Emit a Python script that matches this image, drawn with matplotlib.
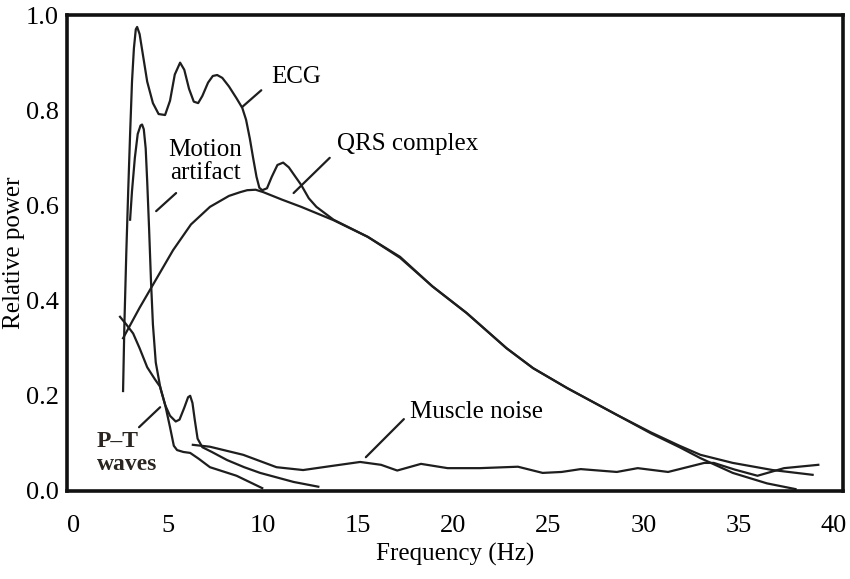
import matplotlib
matplotlib.use("Agg")
import matplotlib.pyplot as plt

plt.rcParams['font.family'] = ['Liberation Serif', 'DejaVu Serif']

# curves (frequency in Hz, relative power)
ecg_f = [2.63, 2.7, 2.8, 2.9, 3.0, 3.1, 3.2, 3.3, 3.37, 3.5, 3.7, 3.9, 4.2, 4.5,
         4.84, 5.1, 5.35, 5.63, 5.85, 6.1, 6.35, 6.58, 6.8, 7.1, 7.35, 7.58, 7.85,
         8.2, 8.6, 8.9, 9.1, 9.3, 9.47, 9.65, 9.8, 9.95, 10.2, 10.45, 10.75, 11.05,
         11.35, 11.7, 12.0, 12.4, 12.8, 13.7, 15.5, 17.2, 18.9, 20.7, 22.8, 24.2,
         26.0, 28.6, 30.4, 31.9, 33.0, 34.7, 36.5, 38.0]
ecg_p = [0.21, 0.35, 0.50, 0.63, 0.75, 0.86, 0.93, 0.97, 0.975, 0.96, 0.91, 0.86,
         0.815, 0.792, 0.79, 0.82, 0.875, 0.90, 0.885, 0.845, 0.818, 0.815, 0.83,
         0.858, 0.872, 0.874, 0.868, 0.85, 0.825, 0.805, 0.78, 0.74, 0.70, 0.66,
         0.637, 0.632, 0.636, 0.66, 0.685, 0.69, 0.68, 0.66, 0.643, 0.615, 0.597,
         0.57, 0.534, 0.492, 0.43, 0.374, 0.30, 0.258, 0.216, 0.16, 0.121, 0.092,
         0.069, 0.038, 0.016, 0.004]

qrs_f = [2.63, 3.5, 4.3, 5.26, 6.2, 7.2, 8.2, 8.8, 9.16, 9.6, 10.0, 11.0, 12.0,
         13.7, 15.5, 17.2, 18.9, 20.7, 22.8, 24.2, 26.0, 28.6, 30.4, 31.9, 33.0,
         34.7, 36.8, 38.9]
qrs_p = [0.321, 0.385, 0.44, 0.506, 0.56, 0.597, 0.62, 0.628, 0.632, 0.633, 0.628,
         0.612, 0.597, 0.569, 0.534, 0.49, 0.43, 0.374, 0.30, 0.258, 0.216, 0.16,
         0.123, 0.095, 0.076, 0.059, 0.044, 0.034]

motion_f = [3.0, 3.1, 3.25, 3.4, 3.55, 3.63, 3.72, 3.82, 3.9, 4.0, 4.1, 4.2, 4.35,
            4.6, 4.85, 5.1, 5.4, 5.6, 5.85, 6.05, 6.16, 6.28, 6.4, 6.55, 6.8, 7.3,
            8.1, 9.0, 9.84, 11.6, 12.9]
motion_p = [0.57, 0.63, 0.70, 0.75, 0.768, 0.77, 0.76, 0.72, 0.65, 0.55, 0.44,
            0.35, 0.27, 0.215, 0.18, 0.158, 0.146, 0.15, 0.175, 0.197, 0.20, 0.185,
            0.15, 0.11, 0.092, 0.082, 0.065, 0.05, 0.038, 0.019, 0.009]

pt_f = [2.47, 2.8, 3.16, 3.5, 3.9, 4.3, 4.58, 4.85, 5.1, 5.3, 5.47, 5.8, 6.16,
        6.6, 7.2, 8.6, 9.95]
pt_p = [0.366, 0.35, 0.331, 0.30, 0.26, 0.235, 0.219, 0.18, 0.134, 0.095, 0.086,
        0.082, 0.08, 0.068, 0.05, 0.032, 0.006]

muscle_f = [6.3, 7.2, 8.95, 10.7, 12.1, 13.5, 15.1, 16.2, 17.05, 18.3, 19.7, 21.4,
            23.4, 24.7, 25.7, 26.7, 28.6, 29.7, 31.3, 33.2, 33.7, 34.8, 36.0,
            37.4, 39.2]
muscle_p = [0.097, 0.093, 0.076, 0.05, 0.044, 0.052, 0.061, 0.055, 0.043, 0.057,
            0.048, 0.048, 0.051, 0.038, 0.04, 0.046, 0.04, 0.048, 0.04, 0.059,
            0.059, 0.045, 0.032, 0.048, 0.055]

x_ticks = [0, 5, 10, 15, 20, 25, 30, 35, 40]
y_ticks = [0.0, 0.2, 0.4, 0.6, 0.8, 1.0]

fig = plt.figure(figsize=(8.5, 5.79), dpi=100)
ax = fig.add_axes([0.0788, 0.152, 0.913, 0.822])

line_kw = dict(color='#1e1e1e', linewidth=1.6, solid_joinstyle='round')
for f, p in [(ecg_f, ecg_p), (qrs_f, qrs_p), (motion_f, motion_p),
             (pt_f, pt_p), (muscle_f, muscle_p)]:
    ax.plot(f, p, **line_kw)

ax.set_xlim(-0.32, 40.5)
ax.set_ylim(0, 1.0)
ax.set_xticks(x_ticks)
ax.set_xticklabels([str(t) for t in x_ticks])
ax.set_yticks(y_ticks)
ax.set_yticklabels(['%.1f' % t for t in y_ticks])
ax.tick_params(length=0, labelsize=19)
ax.tick_params(axis='x', pad=17)
ax.tick_params(axis='y', pad=6)
for s in ax.spines.values():
    s.set_linewidth(2.6)
    s.set_color('#111111')

ax.set_xlabel('Frequency (Hz)', fontsize=18)
ax.set_ylabel('Relative power', fontsize=18)
ax.xaxis.set_label_coords(0.5, -0.11)
ax.yaxis.set_label_coords(-0.054, 0.5)

# labels with leader lines
lead = dict(arrowstyle='-', color='#1e1e1e', linewidth=1.6, shrinkA=0, shrinkB=0)
ax.annotate('', xy=(8.9, 0.807), xytext=(9.9, 0.842), arrowprops=lead)
ax.text(10.4, 0.87, 'ECG', fontsize=18, va='center')

ax.annotate('', xy=(11.6, 0.626), xytext=(13.5, 0.70), arrowprops=lead)
ax.text(13.9, 0.73, 'QRS complex', fontsize=18, va='center')

ax.annotate('', xy=(4.37, 0.588), xytext=(5.42, 0.626), arrowprops=lead)
ax.text(6.95, 0.693, 'Motion\nartifact', fontsize=18, va='center', ha='center',
        linespacing=1.05)

ax.annotate('', xy=(3.47, 0.134), xytext=(4.58, 0.176), arrowprops=lead)
ax.text(1.26, 0.08, 'P–T\nwaves', fontsize=17, va='center', ha='left',
        fontweight='bold', color='#2a2520', linespacing=1.1)

ax.annotate('', xy=(15.4, 0.071), xytext=(17.4, 0.151), arrowprops=lead)
ax.text(17.7, 0.166, 'Muscle noise', fontsize=18, va='center')

fig.savefig('out.png', dpi=100)
